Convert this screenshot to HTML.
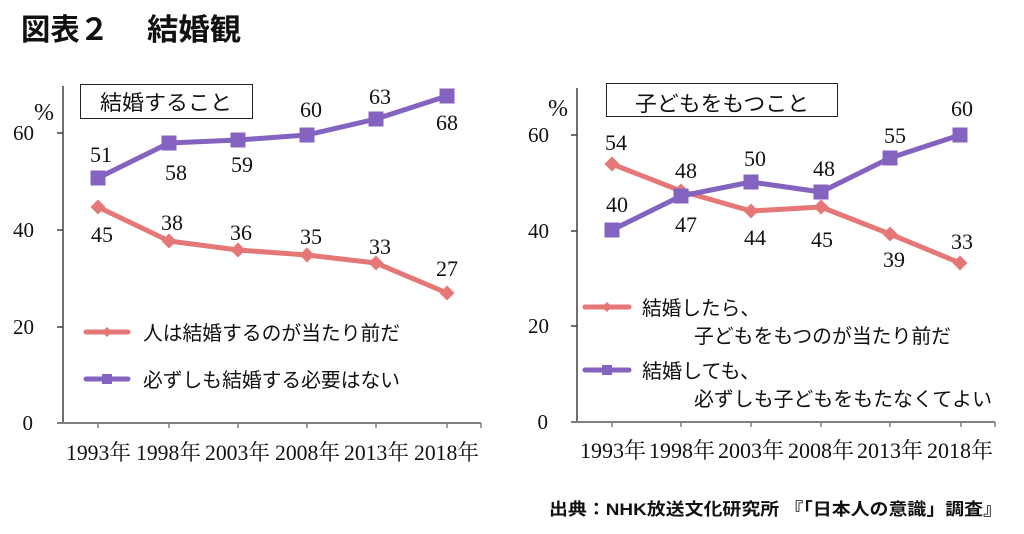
<!DOCTYPE html>
<html><head><meta charset="utf-8"><style>
html,body{margin:0;padding:0;background:#fff;}
svg{display:block;}
.jp{font-family:"Liberation Sans","Noto Sans CJK JP",sans-serif;fill:#111;}
.num{font-family:"Liberation Serif","Noto Serif CJK SC",serif;fill:#111;font-size:22px;text-anchor:middle;}
.tick{font-family:"Liberation Serif","Noto Serif CJK SC",serif;fill:#111;font-size:21px;text-anchor:end;}
.pct{font-family:"Liberation Serif","Noto Serif CJK SC",serif;fill:#111;font-size:24px;text-anchor:end;}
.xl{font-family:"Liberation Serif","Noto Serif CJK SC",serif;fill:#111;font-size:22px;}
</style></head><body>
<svg width="1024" height="534" viewBox="0 0 1024 534" xmlns="http://www.w3.org/2000/svg">
<rect width="1024" height="534" fill="#fff"/>
<!-- Title -->
<text class="jp" x="21" y="40" font-size="30" font-weight="bold" textLength="88" lengthAdjust="spacingAndGlyphs">図表２</text>
<text class="jp" x="147" y="40" font-size="30" font-weight="bold" textLength="94" lengthAdjust="spacingAndGlyphs">結婚観</text>

<!-- ===== LEFT CHART ===== -->
<line x1="63" y1="86" x2="63" y2="423" stroke="#404040" stroke-width="1.5"/>
<g stroke="#404040" stroke-width="1.5">
<line x1="57" y1="133" x2="63" y2="133"/>
<line x1="57" y1="230" x2="63" y2="230"/>
<line x1="57" y1="327" x2="63" y2="327"/>
</g>
<line x1="57" y1="423" x2="481" y2="423" stroke="#808080" stroke-width="2"/>
<g stroke="#808080" stroke-width="1.5">
<line x1="98" y1="423" x2="98" y2="428"/>
<line x1="169" y1="423" x2="169" y2="428"/>
<line x1="238" y1="423" x2="238" y2="428"/>
<line x1="307" y1="423" x2="307" y2="428"/>
<line x1="376" y1="423" x2="376" y2="428"/>
<line x1="447" y1="423" x2="447" y2="428"/>
<line x1="481" y1="423" x2="481" y2="428"/>
</g>
<text class="tick" x="34" y="140">60</text>
<text class="tick" x="34" y="237">40</text>
<text class="tick" x="34" y="334">20</text>
<text class="tick" x="33" y="430">0</text>
<text class="pct" x="54" y="120">%</text>

<text class="xl" x="66" y="460" textLength="65" lengthAdjust="spacingAndGlyphs">1993年</text>
<text class="xl" x="136" y="460" textLength="65" lengthAdjust="spacingAndGlyphs">1998年</text>
<text class="xl" x="205" y="460" textLength="65" lengthAdjust="spacingAndGlyphs">2003年</text>
<text class="xl" x="275" y="460" textLength="65" lengthAdjust="spacingAndGlyphs">2008年</text>
<text class="xl" x="344" y="460" textLength="65" lengthAdjust="spacingAndGlyphs">2013年</text>
<text class="xl" x="414" y="460" textLength="65" lengthAdjust="spacingAndGlyphs">2018年</text>

<rect x="80.5" y="84.5" width="172" height="34" fill="#fff" stroke="#222" stroke-width="1"/>
<text class="jp" x="100" y="110" font-size="21" textLength="132" lengthAdjust="spacingAndGlyphs">結婚すること</text>

<!-- red series -->
<polyline points="98,207 169,241 238,250 307,255 376,263 447,293" fill="none" stroke="#E57777" stroke-width="5" stroke-linejoin="round"/>
<g fill="#E57777">
<polygon points="98,199.5 105.5,207 98,214.5 90.5,207"/>
<polygon points="169,233.5 176.5,241 169,248.5 161.5,241"/>
<polygon points="238,242.5 245.5,250 238,257.5 230.5,250"/>
<polygon points="307,247.5 314.5,255 307,262.5 299.5,255"/>
<polygon points="376,255.5 383.5,263 376,270.5 368.5,263"/>
<polygon points="447,285.5 454.5,293 447,300.5 439.5,293"/>
</g>
<!-- purple series -->
<polyline points="98,178 169,143 238,140 307,135 376,119 447,96" fill="none" stroke="#8462C0" stroke-width="5" stroke-linejoin="round"/>
<g fill="#8462C0">
<rect x="90.5" y="170.5" width="15" height="15"/>
<rect x="161.5" y="135.5" width="15" height="15"/>
<rect x="230.5" y="132.5" width="15" height="15"/>
<rect x="299.5" y="127.5" width="15" height="15"/>
<rect x="368.5" y="111.5" width="15" height="15"/>
<rect x="439.5" y="88.5" width="15" height="15"/>
</g>
<text class="num" x="101" y="162">51</text>
<text class="num" x="176" y="180">58</text>
<text class="num" x="242" y="172">59</text>
<text class="num" x="311" y="117">60</text>
<text class="num" x="380" y="104">63</text>
<text class="num" x="447" y="130">68</text>
<text class="num" x="102" y="242">45</text>
<text class="num" x="172" y="230">38</text>
<text class="num" x="241" y="240">36</text>
<text class="num" x="311" y="244">35</text>
<text class="num" x="380" y="254">33</text>
<text class="num" x="447" y="276">27</text>

<!-- legend left -->
<line x1="86" y1="332" x2="128" y2="332" stroke="#E57777" stroke-width="5" stroke-linecap="round"/>
<polygon points="107,327 112,332 107,337 102,332" fill="#E57777"/>
<text class="jp" x="143" y="340" font-size="20" textLength="257" lengthAdjust="spacingAndGlyphs">人は結婚するのが当たり前だ</text>
<line x1="86" y1="379" x2="128" y2="379" stroke="#8462C0" stroke-width="5" stroke-linecap="round"/>
<rect x="102" y="374" width="10" height="10" fill="#8462C0"/>
<text class="jp" x="143" y="387" font-size="20" textLength="257" lengthAdjust="spacingAndGlyphs">必ずしも結婚する必要はない</text>

<!-- ===== RIGHT CHART ===== -->
<line x1="577" y1="88" x2="577" y2="422" stroke="#404040" stroke-width="1.5"/>
<g stroke="#404040" stroke-width="1.5">
<line x1="571" y1="135" x2="577" y2="135"/>
<line x1="571" y1="231" x2="577" y2="231"/>
<line x1="571" y1="326" x2="577" y2="326"/>
</g>
<line x1="571" y1="422" x2="995" y2="422" stroke="#808080" stroke-width="2"/>
<g stroke="#808080" stroke-width="1.5">
<line x1="612" y1="422" x2="612" y2="427"/>
<line x1="681" y1="422" x2="681" y2="427"/>
<line x1="751" y1="422" x2="751" y2="427"/>
<line x1="821" y1="422" x2="821" y2="427"/>
<line x1="890" y1="422" x2="890" y2="427"/>
<line x1="961" y1="422" x2="961" y2="427"/>
<line x1="995" y1="422" x2="995" y2="427"/>
</g>
<text class="tick" x="549" y="142">60</text>
<text class="tick" x="549" y="238">40</text>
<text class="tick" x="549" y="333">20</text>
<text class="tick" x="548" y="429">0</text>
<text class="pct" x="568" y="116">%</text>

<text class="xl" x="580" y="458" textLength="66" lengthAdjust="spacingAndGlyphs">1993年</text>
<text class="xl" x="649" y="458" textLength="66" lengthAdjust="spacingAndGlyphs">1998年</text>
<text class="xl" x="718" y="458" textLength="66" lengthAdjust="spacingAndGlyphs">2003年</text>
<text class="xl" x="788" y="458" textLength="66" lengthAdjust="spacingAndGlyphs">2008年</text>
<text class="xl" x="857" y="458" textLength="66" lengthAdjust="spacingAndGlyphs">2013年</text>
<text class="xl" x="927" y="458" textLength="66" lengthAdjust="spacingAndGlyphs">2018年</text>

<rect x="606.5" y="83.5" width="231" height="33" fill="#fff" stroke="#222" stroke-width="1"/>
<text class="jp" x="635" y="111" font-size="21" textLength="174" lengthAdjust="spacingAndGlyphs">子どもをもつこと</text>

<!-- red series -->
<polyline points="612,164 681,191 751,211 821,207 890,234 960,263" fill="none" stroke="#E57777" stroke-width="5" stroke-linejoin="round"/>
<g fill="#E57777">
<polygon points="612,156.5 619.5,164 612,171.5 604.5,164"/>
<polygon points="681,183.5 688.5,191 681,198.5 673.5,191"/>
<polygon points="751,203.5 758.5,211 751,218.5 743.5,211"/>
<polygon points="821,199.5 828.5,207 821,214.5 813.5,207"/>
<polygon points="890,226.5 897.5,234 890,241.5 882.5,234"/>
<polygon points="960,255.5 967.5,263 960,270.5 952.5,263"/>
</g>
<!-- purple series -->
<polyline points="612,230 681,196 751,182 821,192 890,158 960,135" fill="none" stroke="#8462C0" stroke-width="5" stroke-linejoin="round"/>
<g fill="#8462C0">
<rect x="604.5" y="222.5" width="15" height="15"/>
<rect x="673.5" y="188.5" width="15" height="15"/>
<rect x="743.5" y="174.5" width="15" height="15"/>
<rect x="813.5" y="184.5" width="15" height="15"/>
<rect x="882.5" y="150.5" width="15" height="15"/>
<rect x="952.5" y="127.5" width="15" height="15"/>
</g>
<text class="num" x="616" y="150">54</text>
<text class="num" x="617" y="212">40</text>
<text class="num" x="686" y="178">48</text>
<text class="num" x="686" y="232">47</text>
<text class="num" x="755" y="166">50</text>
<text class="num" x="755" y="245">44</text>
<text class="num" x="824" y="176">48</text>
<text class="num" x="822" y="247">45</text>
<text class="num" x="895" y="143">55</text>
<text class="num" x="894" y="267">39</text>
<text class="num" x="962" y="116">60</text>
<text class="num" x="962" y="249">33</text>

<!-- legend right -->
<line x1="585" y1="307" x2="629" y2="307" stroke="#E57777" stroke-width="5" stroke-linecap="round"/>
<polygon points="607,302 612,307 607,312 602,307" fill="#E57777"/>
<text class="jp" x="642" y="315" font-size="20" textLength="118" lengthAdjust="spacingAndGlyphs">結婚したら、</text>
<text class="jp" x="694" y="343" font-size="20" textLength="257" lengthAdjust="spacingAndGlyphs">子どもをもつのが当たり前だ</text>
<line x1="585" y1="370" x2="629" y2="370" stroke="#8462C0" stroke-width="5" stroke-linecap="round"/>
<rect x="602" y="365" width="10" height="10" fill="#8462C0"/>
<text class="jp" x="642" y="378" font-size="20" textLength="118" lengthAdjust="spacingAndGlyphs">結婚しても、</text>
<text class="jp" x="694" y="406" font-size="20" textLength="298" lengthAdjust="spacingAndGlyphs">必ずしも子どもをもたなくてよい</text>

<!-- source -->
<text class="jp" x="549" y="515" font-size="17" font-weight="bold" textLength="453" lengthAdjust="spacingAndGlyphs">出典：NHK放送文化研究所 『「日本人の意識」調査』</text>
</svg>
</body></html>
